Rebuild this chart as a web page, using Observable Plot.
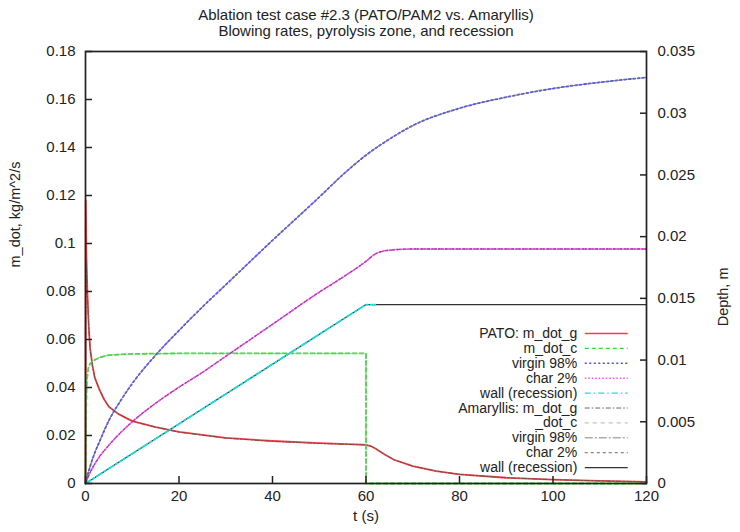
<!DOCTYPE html>
<html>
<head>
<meta charset="utf-8">
<script src="https://cdn.jsdelivr.net/npm/d3@7"></script>
<script src="https://cdn.jsdelivr.net/npm/@observablehq/plot@0.6"></script>
<style>
  html, body { margin: 0; padding: 0; background: #fff; }
  #chart { width: 740px; height: 532px; }
</style>
</head>
<body>
<div id="chart"></div>
<script>
// ---------- data ----------
const titleLines = ["Ablation test case #2.3 (PATO/PAM2 vs. Amaryllis)", "Blowing rates, pyrolysis zone, and recession"];
const xLabel = "t (s)";
const yLabelLeft = "m_dot, kg/m^2/s";
const yLabelRight = "Depth, m";
const xTicks = [0, 20, 40, 60, 80, 100, 120];
const yTicksLeft = [0, 0.02, 0.04, 0.06, 0.08, 0.1, 0.12, 0.14, 0.16, 0.18];
const yTicksRight = [0, 0.005, 0.01, 0.015, 0.02, 0.025, 0.03, 0.035];

// blowing rates (kg/m^2/s), left axis
const t_mdot_g = [0, 0.05, 0.2, 0.4, 0.7, 1, 1.5, 2, 3, 4, 5, 7, 10, 15, 20, 30, 40, 50, 59, 60, 61, 62, 64, 66, 70, 75, 80, 90, 100, 110, 120];
const pato_mdot_g = [0, 0.118, 0.095, 0.080, 0.065, 0.056, 0.049, 0.044, 0.039, 0.035, 0.032, 0.029, 0.026, 0.0235, 0.0215, 0.019, 0.0177, 0.0168, 0.0162, 0.0161, 0.0156, 0.0146, 0.0121, 0.0099, 0.0072, 0.0052, 0.0038, 0.0024, 0.0016, 0.0011, 0.0007];
const amar_mdot_g = [0, 0.093, 0.090, 0.079, 0.065, 0.056, 0.049, 0.044, 0.039, 0.035, 0.032, 0.029, 0.026, 0.0235, 0.0214, 0.0189, 0.0176, 0.0167, 0.0161, 0.0160, 0.0156, 0.0146, 0.0121, 0.0099, 0.0072, 0.0052, 0.0038, 0.0024, 0.0016, 0.0011, 0.0007];

const t_mdot_c = [0, 0.1, 0.3, 0.6, 1, 2, 3, 5, 10, 20, 30, 40, 50, 60, 60, 120];
const pato_mdot_c = [0, 0.028, 0.043, 0.048, 0.050, 0.0515, 0.0525, 0.0535, 0.0540, 0.0542, 0.0542, 0.0542, 0.0542, 0.0542, 0, 0];
const amar_mdot_c = [0, 0.027, 0.042, 0.048, 0.050, 0.0515, 0.0525, 0.0535, 0.0540, 0.0542, 0.0542, 0.0542, 0.0542, 0.0542, 0, 0];

// depths (m), right axis
const t_virgin = [0, 1, 2, 3, 5, 7.5, 10, 15, 20, 25, 30, 40, 50, 55, 60, 65, 70, 80, 90, 100, 110, 120];
const pato_virgin = [0, 0.0014, 0.0025, 0.0034, 0.0051, 0.0067, 0.0081, 0.0104, 0.0124, 0.0143, 0.0161, 0.0197, 0.0232, 0.0250, 0.0266, 0.0279, 0.0290, 0.0304, 0.0313, 0.0320, 0.0325, 0.0329];
const amar_virgin = [0, 0.0014, 0.0025, 0.0034, 0.0051, 0.0067, 0.0081, 0.0104, 0.0124, 0.0143, 0.0161, 0.0197, 0.0232, 0.0250, 0.0266, 0.0279, 0.0290, 0.0304, 0.0313, 0.0320, 0.0325, 0.0329];

const t_char = [0, 1, 2.5, 5, 10, 15, 20, 25, 30, 40, 50, 55, 60, 62, 65, 70, 80, 100, 120];
const pato_char = [0, 0.0009, 0.0019, 0.0031, 0.0050, 0.0065, 0.0078, 0.0090, 0.0103, 0.0129, 0.0155, 0.0167, 0.0180, 0.0186, 0.0189, 0.0190, 0.0190, 0.0190, 0.0190];
const amar_char = [0, 0.0009, 0.0019, 0.0031, 0.0050, 0.0065, 0.0078, 0.0090, 0.0103, 0.0129, 0.0155, 0.0167, 0.0180, 0.0186, 0.0189, 0.0190, 0.0190, 0.0190, 0.0190];

const t_wall_pato = [0, 60, 62];
const pato_wall = [0, 0.0145, 0.0145];
const t_wall_amar = [0, 60, 120];
const amar_wall = [0, 0.0145, 0.0145];

const legendLabels = ["PATO: m_dot_g", "m_dot_c", "virgin 98%", "char 2%", "wall (recession)",
                      "Amaryllis: m_dot_g", "_dot_c", "virgin 98%", "char 2%", "wall (recession)"];

// ---------- build ----------
const yMax = 0.18, dMax = 0.035;
const k = yMax / dMax; // depth -> left-axis units

const series = [
  {t: t_mdot_g, v: pato_mdot_g, right: false, stroke: "#ff3c3c", dash: null, w: 1.8, curve: "linear"},
  {t: t_mdot_c, v: pato_mdot_c, right: false, stroke: "#2ee02e", dash: "4,3", w: 1.8, curve: "linear"},
  {t: t_virgin, v: pato_virgin, right: true, stroke: "#4d4dff", dash: "2,2.5", w: 1.8, curve: "monotone-x"},
  {t: t_char, v: pato_char, right: true, stroke: "#ff44ff", dash: "1.5,2", w: 1.8, curve: "monotone-x"},
  {t: t_wall_pato, v: pato_wall, right: true, stroke: "#18dede", dash: "6,3,1.5,3", w: 1.8, curve: "linear"},
  {t: t_mdot_g, v: amar_mdot_g, right: false, stroke: "#555555", dash: "5,2,1.5,2", w: 0.9, curve: "linear"},
  {t: t_mdot_c, v: amar_mdot_c, right: false, stroke: "#aaaaaa", dash: "4,4", w: 0.9, curve: "linear"},
  {t: t_virgin, v: amar_virgin, right: true, stroke: "#777777", dash: "8,2,2,2", w: 0.9, curve: "monotone-x"},
  {t: t_char, v: amar_char, right: true, stroke: "#555555", dash: "3,3", w: 0.9, curve: "monotone-x"},
  {t: t_wall_amar, v: amar_wall, right: true, stroke: "#333333", dash: null, w: 1.2, curve: "linear"}
];

// draw order: Amaryllis wall first so PATO's cyan wall sits on top; other Amaryllis curves above PATO
const order = [9, 0, 1, 2, 3, 4, 5, 6, 7, 8];
const lineMarks = order.map(j => {
  const s = series[j];
  const pts = s.t.map((t, i) => ({t, v: s.right ? s.v[i] * k : s.v[i]}));
  return Plot.line(pts, {x: "t", y: "v", stroke: s.stroke, strokeWidth: s.w,
    strokeDasharray: s.dash || undefined, curve: s.curve});
});

// legend layout (placed in data space, inside the frame)
const legTextX = 105.2, legLine1 = 106.9, legLine2 = 116.1;
const legTop = 0.0625, legStep = 0.00621;
const legendMarks = [];
series.forEach((s, i) => {
  const yv = legTop - i * legStep;
  legendMarks.push(Plot.ruleY([yv], {x1: legLine1, x2: legLine2, stroke: s.stroke,
    strokeWidth: Math.min(s.w, 1.4), strokeDasharray: s.dash || undefined}));
  legendMarks.push(Plot.text([legendLabels[i]], {x: legTextX, y: yv, text: d => d,
    textAnchor: "end", fill: "#222", fontSize: 14}));
});

const fmt = v => String(+v.toPrecision(6));

const chart = Plot.plot({
  width: 740,
  height: 532,
  marginTop: 51,
  marginBottom: 49,
  marginLeft: 85,
  marginRight: 94,
  style: {fontFamily: "'Liberation Sans', Arial, sans-serif", fontSize: "15px", color: "#222", background: "#fff"},
  x: {domain: [0, 120]},
  y: {domain: [0, yMax]},
  marks: [
    ...lineMarks,
    ...legendMarks,
    // left axis: inward ticks + labels
    Plot.axisY(yTicksLeft, {anchor: "left", tickSize: 7, dx: 7, fill: "none", label: null, strokeWidth: 1.5}),
    Plot.axisY(yTicksLeft, {anchor: "left", tickSize: 0, tickPadding: 10, label: null, tickFormat: fmt}),
    // right axis (depth)
    Plot.axisY(yTicksRight.map(d => d * k), {anchor: "right", tickSize: 7, dx: -7, fill: "none", label: null, strokeWidth: 1.5}),
    Plot.axisY(yTicksRight.map(d => d * k), {anchor: "right", tickSize: 0, tickPadding: 11, label: null, tickFormat: d => fmt(d / k)}),
    // bottom axis
    Plot.axisX(xTicks, {anchor: "bottom", tickSize: 7, dy: -7, fill: "none", label: null, strokeWidth: 1.5}),
    Plot.axisX(xTicks, {anchor: "bottom", tickSize: 0, tickPadding: 7, label: null, tickFormat: fmt}),
    Plot.frame({stroke: "#222", strokeWidth: 1.7}),
    // titles and axis labels
    Plot.text([titleLines[0]], {frameAnchor: "top", dy: -42, text: d => d, fontSize: 15, fill: "#222"}),
    Plot.text([titleLines[1]], {frameAnchor: "top", dy: -26, text: d => d, fontSize: 15, fill: "#222"}),
    Plot.text([xLabel], {frameAnchor: "bottom", dy: 37, text: d => d, fontSize: 15, fill: "#222"}),
    Plot.text([yLabelLeft], {frameAnchor: "left", dx: -70, rotate: -90, text: d => d, fontSize: 14.5, fill: "#222"}),
    Plot.text([yLabelRight], {frameAnchor: "right", dx: 77, rotate: -90, text: d => d, fontSize: 14.5, fill: "#222"})
  ]
});
document.getElementById("chart").appendChild(chart);
</script>
</body>
</html>
